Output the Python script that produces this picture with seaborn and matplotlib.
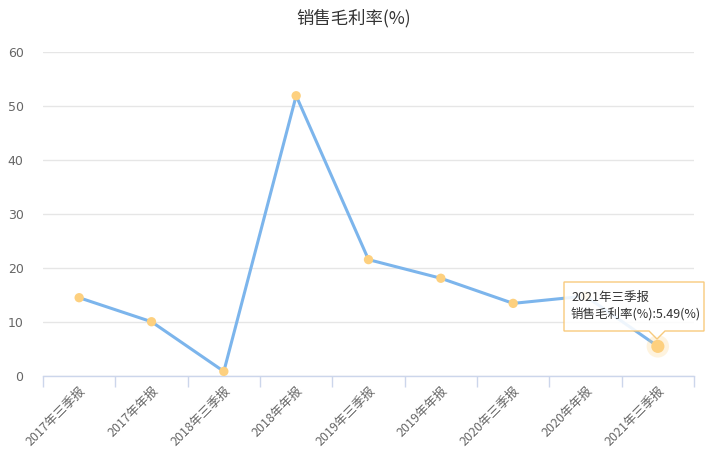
import pandas as pd
import matplotlib.pyplot as plt
import seaborn as sns
from matplotlib.patches import Polygon

# Data
periods = ["2017年三季报", "2017年年报", "2018年三季报", "2018年年报", "2019年三季报",
           "2019年年报", "2020年三季报", "2020年年报", "2021年三季报"]
margin = [14.5, 10.05, 0.85, 51.9, 21.55, 18.1, 13.45, 14.8, 5.49]
y_ticks = [0, 10, 20, 30, 40, 50, 60]

df = pd.DataFrame({"period": periods, "margin": margin})
df["pos"] = range(len(df))

sns.set_style("white")
plt.rcParams["font.family"] = ["Noto Sans CJK SC", "DejaVu Sans"]

fig = plt.figure(figsize=(7.08, 4.53), dpi=100)
ax = fig.add_axes([43 / 708, 1 - 376 / 453, 651 / 708, 324 / 453])

# line and markers
sns.lineplot(data=df, x="pos", y="margin", ax=ax, color="#7cb5ec", linewidth=2.2,
             sort=False, zorder=3)
sns.scatterplot(data=df.iloc[:-1], x="pos", y="margin", ax=ax, color="#fdd07f",
                s=45, edgecolor="none", zorder=4)
last = df.iloc[-1]
ax.scatter([last["pos"]], [last["margin"]], s=260, color="#fdd07f", alpha=0.25,
           edgecolor="none", zorder=4)
ax.scatter([last["pos"]], [last["margin"]], s=90, color="#fdd07f", edgecolor="none", zorder=5)

ax.set_xlim(-0.5, len(periods) - 0.5)
ax.set_ylim(0, 60)
ax.set_yticks(y_ticks)
ax.set_xticks([i - 0.5 for i in range(len(periods) + 1)], minor=False)
ax.set_xticklabels([])
ax.set_xticks(range(len(periods)), minor=True)
ax.set_xticklabels(periods, minor=True, rotation=45, ha="right", rotation_mode="anchor",
                   fontsize=9, color="#666666")
ax.tick_params(axis="x", which="major", bottom=True, direction="out", length=8,
               color="#ccd6eb", width=1)
ax.tick_params(axis="x", which="minor", bottom=True, length=0, pad=6)
ax.tick_params(axis="y", length=0, pad=14, labelsize=9, labelcolor="#666666")
for lbl in ax.get_yticklabels():
    lbl.set_fontfamily(["DejaVu Sans"])

ax.grid(axis="y", color="#e6e6e6", linewidth=1)
ax.set_axisbelow(True)
for s in ["top", "right", "left"]:
    ax.spines[s].set_visible(False)
ax.spines["bottom"].set_color("#ccd6eb")
ax.spines["bottom"].set_linewidth(1)
ax.set_xlabel("")
ax.set_ylabel("")

fig.text(0.5, 1 - 18 / 453, "销售毛利率(%)", ha="center", va="center", fontsize=12.5,
         color="#333333")

# tooltip on the last point
box_x0, box_x1 = 564 / 708, 704 / 708
box_y0, box_y1 = 1 - 331 / 453, 1 - 282 / 453
tip_x, tip_y = 657 / 708, 1 - 339 / 453
tooltip = Polygon([(box_x0, box_y1), (box_x1, box_y1), (box_x1, box_y0),
                   (tip_x + 8 / 708, box_y0), (tip_x, tip_y), (tip_x - 8 / 708, box_y0),
                   (box_x0, box_y0)], closed=True, transform=fig.transFigure,
                  facecolor="white", alpha=0.88, edgecolor="#f7c36b", linewidth=1, zorder=10)
fig.patches.append(tooltip)
fig.text(571 / 708, 1 - 297 / 453, last["period"], ha="left", va="center", fontsize=9,
         color="#333333", zorder=11)
fig.text(571 / 708, 1 - 314 / 453, f"销售毛利率(%):{last['margin']:.2f}(%)", ha="left",
         va="center", fontsize=9, color="#333333", zorder=11)

fig.savefig("out.png", dpi=100)
